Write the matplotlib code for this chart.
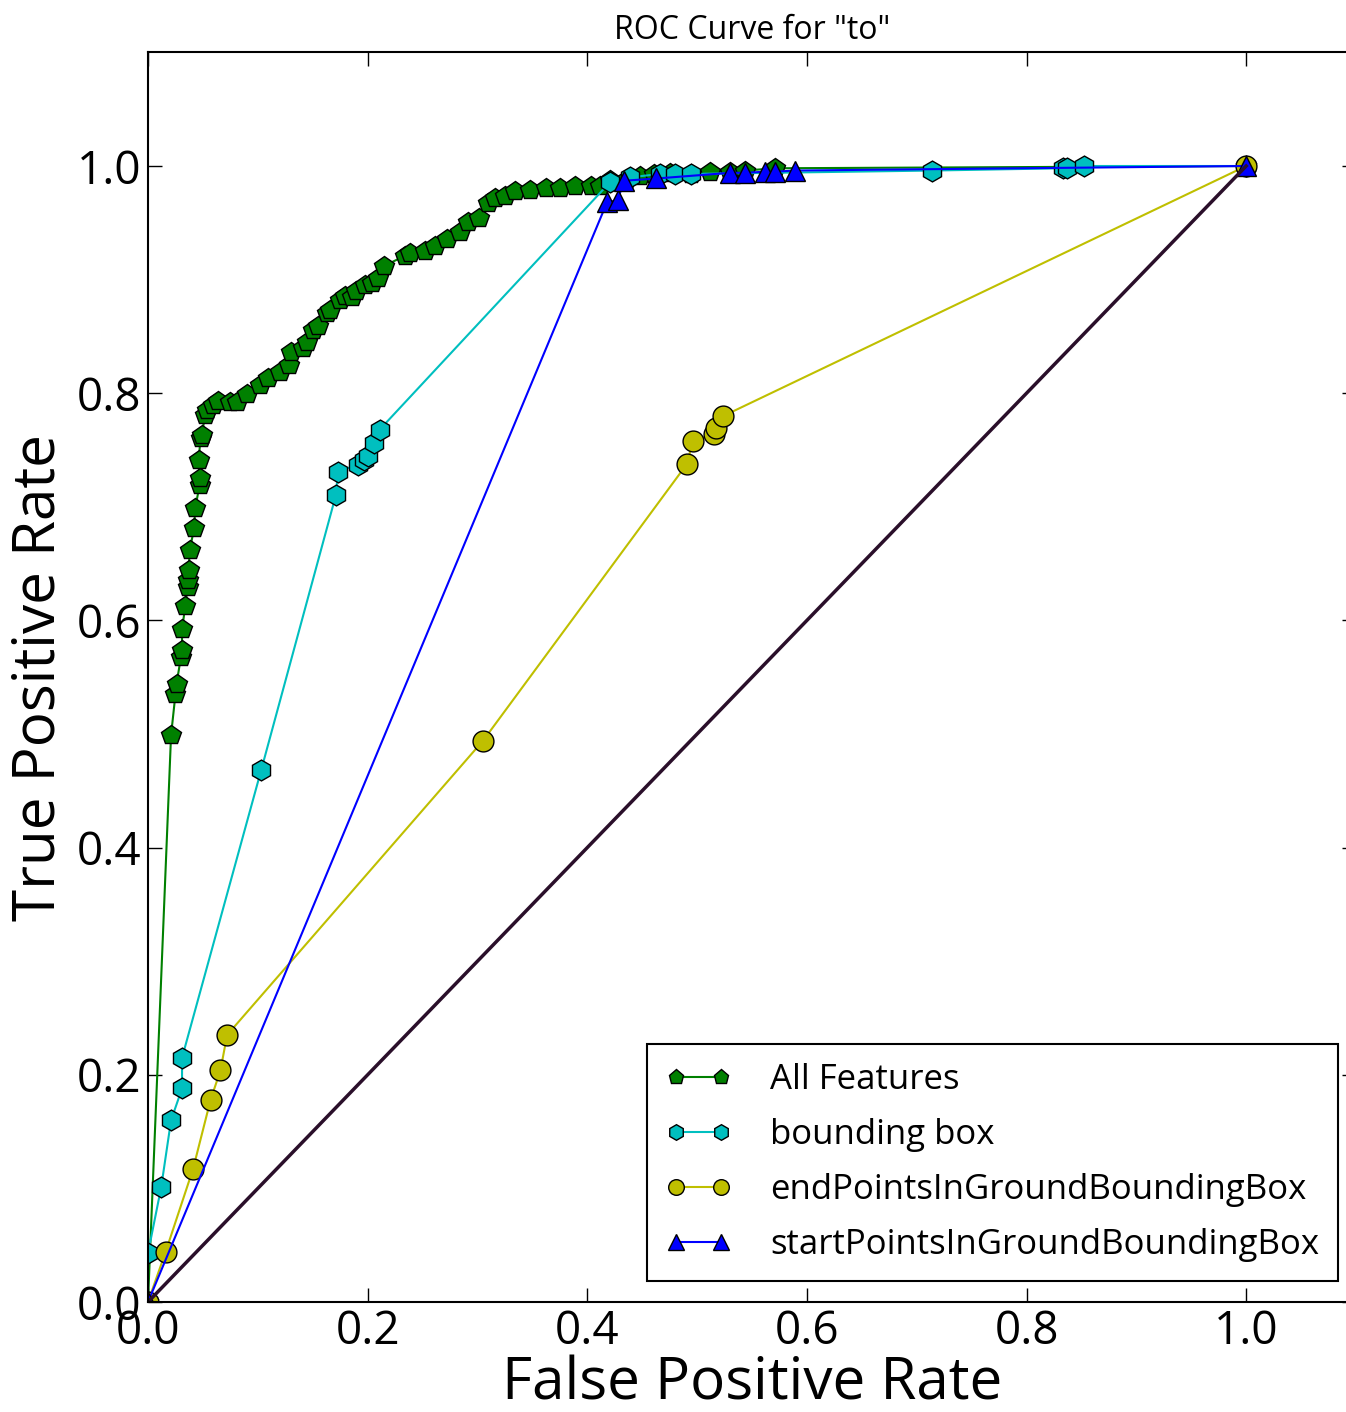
import matplotlib
matplotlib.use("Agg")
import matplotlib.pyplot as plt

plt.rcParams['font.family'] = ['Open Sans', 'DejaVu Sans']

# ROC points
all_fpr = [0.0, 0.021, 0.025, 0.026, 0.030, 0.031, 0.031, 0.034, 0.036, 0.036, 0.037,
           0.038, 0.042, 0.043, 0.047, 0.047, 0.046, 0.048, 0.049, 0.052, 0.054, 0.059,
           0.064, 0.075, 0.081, 0.090, 0.102, 0.109, 0.120, 0.128, 0.130, 0.141, 0.145,
           0.150, 0.155, 0.163, 0.166, 0.175, 0.179, 0.186, 0.189, 0.198, 0.204, 0.209,
           0.215, 0.234, 0.239, 0.252, 0.261, 0.272, 0.284, 0.291, 0.301, 0.310, 0.316,
           0.325, 0.334, 0.348, 0.362, 0.375, 0.389, 0.403, 0.412, 0.421, 0.435, 0.448,
           0.461, 0.475, 0.494, 0.512, 0.530, 0.544, 0.571, 1.0]
all_tpr = [0.0, 0.499, 0.535, 0.544, 0.568, 0.574, 0.592, 0.613, 0.629, 0.636, 0.644,
           0.662, 0.681, 0.699, 0.719, 0.725, 0.741, 0.761, 0.763, 0.781, 0.785, 0.790,
           0.793, 0.792, 0.792, 0.799, 0.807, 0.813, 0.819, 0.825, 0.836, 0.840, 0.845,
           0.856, 0.859, 0.871, 0.873, 0.882, 0.886, 0.885, 0.890, 0.895, 0.897, 0.901,
           0.912, 0.921, 0.923, 0.925, 0.930, 0.936, 0.942, 0.951, 0.954, 0.967, 0.972,
           0.974, 0.978, 0.979, 0.981, 0.981, 0.982, 0.982, 0.982, 0.988, 0.988, 0.991,
           0.993, 0.994, 0.993, 0.995, 0.995, 0.996, 0.998, 1.0]

bbox_fpr = [0.0, 0.0, 0.012, 0.021, 0.031, 0.031, 0.103, 0.171, 0.173, 0.191, 0.197,
            0.200, 0.206, 0.211, 0.421, 0.439, 0.466, 0.480, 0.494, 0.714, 0.833,
            0.837, 0.852, 1.0]
bbox_tpr = [0.0, 0.043, 0.101, 0.160, 0.188, 0.215, 0.468, 0.710, 0.731, 0.737, 0.741,
            0.745, 0.756, 0.768, 0.986, 0.990, 0.993, 0.993, 0.993, 0.996, 0.998,
            0.998, 1.0, 1.0]

end_fpr = [0.0, 0.016, 0.041, 0.057, 0.066, 0.072, 0.305, 0.491, 0.496, 0.515, 0.517,
           0.524, 1.0]
end_tpr = [0.0, 0.044, 0.117, 0.178, 0.204, 0.235, 0.494, 0.738, 0.758, 0.764, 0.769,
           0.780, 1.0]

start_fpr = [0.0, 0.418, 0.428, 0.433, 0.463, 0.530, 0.544, 0.562, 0.571, 0.589, 1.0]
start_tpr = [0.0, 0.968, 0.970, 0.987, 0.989, 0.994, 0.994, 0.995, 0.995, 0.996, 1.0]

fig = plt.figure(figsize=(13.46, 14.12), dpi=100)
ax = fig.add_axes([148 / 1346, 110 / 1412, 1208 / 1346, 1249.6 / 1412])

ms = 15
ax.plot(all_fpr, all_tpr, color='g', marker='p', markersize=ms, markeredgecolor='k',
        markeredgewidth=1, lw=1.5, label='All Features')
ax.plot(bbox_fpr, bbox_tpr, color='c', marker='h', markersize=ms, markeredgecolor='k',
        markeredgewidth=1, lw=1.5, label='bounding box')
ax.plot(end_fpr, end_tpr, color='y', marker='o', markersize=ms, markeredgecolor='k',
        markeredgewidth=1, lw=1.5, label='endPointsInGroundBoundingBox')
ax.plot(start_fpr, start_tpr, color='b', marker='^', markersize=ms, markeredgecolor='k',
        markeredgewidth=1, lw=1.5, label='startPointsInGroundBoundingBox')
ax.plot([0, 1], [0, 1], color='#2a0f2a', lw=2.5)

ax.set_xlim(0, 1.1)
ax.set_ylim(0, 1.1)
ax.set_xticks([0.0, 0.2, 0.4, 0.6, 0.8, 1.0])
ax.set_yticks([0.0, 0.2, 0.4, 0.6, 0.8, 1.0])
ax.tick_params(direction='in', length=10, width=1, labelsize=33, top=True, right=True, pad=5)
for s in ax.spines.values():
    s.set_linewidth(1.5)

ax.set_xlabel('False Positive Rate', fontsize=42, labelpad=0)
ax.set_ylabel('True Positive Rate', fontsize=42, labelpad=6)
ax.set_title('ROC Curve for "to"', fontsize=23, pad=10)

leg = ax.legend(loc='lower right', bbox_to_anchor=(0.9995, 0.003), fontsize=25,
                numpoints=2, markerscale=0.75, fancybox=False, edgecolor='k',
                framealpha=1, borderpad=0.55, labelspacing=0.6, handlelength=1.9,
                handletextpad=1.1)
leg.get_frame().set_linewidth(1.5)

fig.savefig('out.png', dpi=100)
